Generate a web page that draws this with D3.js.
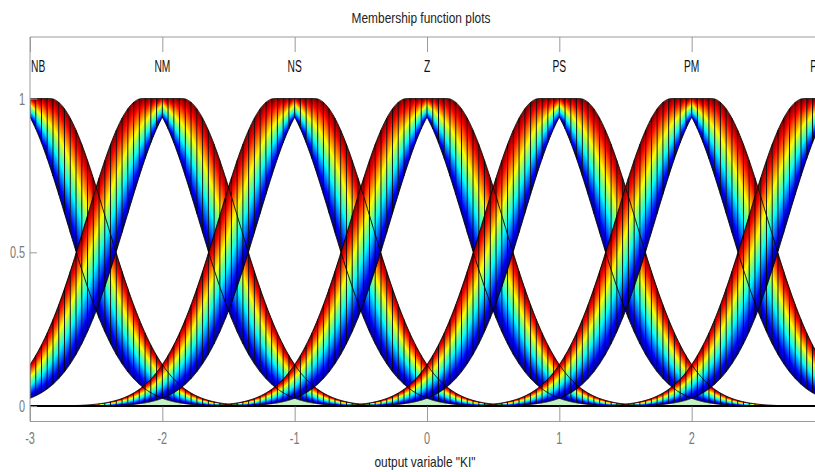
<!DOCTYPE html>
<html>
<head>
<meta charset="utf-8">
<script src="https://cdn.jsdelivr.net/npm/d3@7"></script>
<style>
  html, body { margin: 0; padding: 0; background: #fff; overflow: hidden; }
  svg { display: block; }
  text { font-family: "Liberation Sans Narrow", "Liberation Sans", Arial, sans-serif; }
</style>
</head>
<body>
<svg id="chart" width="815" height="472"></svg>
<script>
// Interval type-2 Gaussian membership functions with uncertain mean
// for the output variable "KI".
const mfNames   = ["NB", "NM", "NS", "Z", "PS", "PM", "PB"];
const mfCenters = [-3, -2, -1, 0, 1, 2, 3];
const mfSigma   = [0.4247, 0.4247, 0.4247, 0.4247, 0.4247, 0.4247, 0.4247];
const mfSpread  = [0.15, 0.15, 0.15, 0.15, 0.15, 0.15, 0.15];   // mean uncertainty ±

const xRange     = [-3, 3];
const yRange     = [-0.05, 1.2];
const xTickVals  = [-3, -2, -1, 0, 1, 2, 3];
const xTickText  = ["-3", "-2", "-1", "0", "1", "2", "3"];
const yTickVals  = [0, 0.5, 1];
const yTickText  = ["0", "0.5", "1"];
const gridCount  = 138;                 // evaluation intervals across the range

const titleText  = "Membership function plots";
const xLabelText = 'output variable "KI"';

// jet colour map, lower MF (0) -> upper MF (1)
const jetStops = [
  [0.000, "#00008f"], [0.125, "#0000ff"], [0.375, "#00ffff"],
  [0.625, "#ffff00"], [0.875, "#ff0000"], [1.000, "#800000"]
];

const W = 815;
const svg = d3.select("#chart");
const x = d3.scaleLinear().domain(xRange).range([30, 824]);
const y = d3.scaleLinear().domain(yRange).range([421.5, 37]);

const gauss = (v, m, s) => Math.exp(-((v - m) ** 2) / (2 * s * s));
function upperMF(k, v) {
  const c = mfCenters[k], d = mfSpread[k], s = mfSigma[k];
  if (v < c - d) return gauss(v, c - d, s);
  if (v > c + d) return gauss(v, c + d, s);
  return 1;
}
function lowerMF(k, v) {
  const c = mfCenters[k], d = mfSpread[k], s = mfSigma[k];
  return Math.min(gauss(v, c - d, s), gauss(v, c + d, s));
}

const grid = d3.range(gridCount + 1).map(i => xRange[0] + (xRange[1] - xRange[0]) * i / gridCount);

svg.append("clipPath").attr("id", "plotClip")
  .append("rect").attr("x", 30).attr("y", 37).attr("width", 800).attr("height", 384.5);

const defs = svg.append("defs");
const plot = svg.append("g").attr("clip-path", "url(#plotClip)");
const bandLayer = plot.append("g");

// Footprint of uncertainty: one shaded quad per grid interval
mfNames.forEach((name, k) => {
  const g = bandLayer.append("g").attr("class", "mf-" + name);
  for (let i = 0; i < gridCount; i++) {
    const a = grid[i], b = grid[i + 1];
    const x0 = x(a), x1 = x(b);
    const U0 = y(upperMF(k, a)), U1 = y(upperMF(k, b));
    const L0 = y(lowerMF(k, a)), L1 = y(lowerMF(k, b));
    const H = ((L0 - U0) + (L1 - U1)) / 2;
    if (H < 0.25) continue;
    const xm = (x0 + x1) / 2, Mm = (L0 + L1 + U0 + U1) / 4;
    const s = ((L1 - L0) + (U1 - U0)) / 2 / (x1 - x0);
    const k2 = H / (s * s + 1);
    const gid = `fou-${k}-${i}`;
    const lg = defs.append("linearGradient").attr("id", gid)
      .attr("gradientUnits", "userSpaceOnUse")
      .attr("x1", xm).attr("y1", Mm + H / 2)
      .attr("x2", xm + s * k2).attr("y2", Mm + H / 2 - k2);
    jetStops.forEach(([o, c]) => lg.append("stop").attr("offset", o).attr("stop-color", c));
    g.append("path")
      .attr("d", `M${x0},${U0}L${x1},${U1}L${x1},${L1}L${x0},${L0}Z`)
      .attr("fill", `url(#${gid})`);
    g.append("line")
      .attr("x1", x0).attr("x2", x0).attr("y1", U0).attr("y2", L0)
      .attr("stroke", "#000").attr("stroke-width", 0.9);
  }
});

// Region beneath the lower MFs of the two neighbours at each inner centre
const under = plot.append("g");
mfCenters.forEach((c, k) => {
  if (k === 0 || k === mfCenters.length - 1) return;
  const d = mfSpread[k];
  const pts = d3.range(0, 21).map(j => c - d + 2 * d * j / 20);
  const area = d3.area()
    .x(v => x(v))
    .y0(y(0))
    .y1(v => y(Math.min(lowerMF(k - 1, v), lowerMF(k + 1, v))));
  under.append("path").attr("d", area(pts)).attr("fill", "#c4f0c6");
});

// Upper and lower MF outlines
const fine = d3.range(0, 1201).map(i => xRange[0] + (xRange[1] - xRange[0]) * i / 1200);
const outlines = plot.append("g").attr("fill", "none").attr("stroke", "#000").attr("stroke-width", 0.9);
mfNames.forEach((name, k) => {
  outlines.append("path").attr("d", d3.line().x(v => x(v)).y(v => y(upperMF(k, v)))(fine));
  outlines.append("path").attr("d", d3.line().x(v => x(v)).y(v => y(lowerMF(k, v)))(fine));
});

// Zero line
plot.append("line")
  .attr("x1", x(xRange[0])).attr("x2", x(xRange[1]))
  .attr("y1", y(0)).attr("y2", y(0))
  .attr("stroke", "#000").attr("stroke-width", 2);

// Axes frame and ticks
const axisColor = "#9a9a9a";
const frame = svg.append("g").attr("stroke", axisColor).attr("stroke-width", 1).attr("fill", "none");
frame.append("path").attr("d", `M${x(xRange[1])},${y(yRange[1])}H${x(xRange[0])}V${y(yRange[0])}H${x(xRange[1])}`);

const xTop = d3.axisTop(x).tickValues(xTickVals).tickSize(-15);
const xBottom = d3.axisBottom(x).tickValues(xTickVals).tickSize(-15);
const yLeft = d3.axisLeft(y).tickValues(yTickVals).tickSize(-7);

function styleAxis(g) {
  g.select(".domain").remove();
  g.selectAll(".tick line").attr("stroke", axisColor);
  g.selectAll(".tick text").remove();
}
svg.append("g").attr("transform", `translate(0,${y(yRange[1])})`).call(xTop).call(styleAxis);
svg.append("g").attr("transform", `translate(0,${y(yRange[0])})`).call(xBottom).call(styleAxis);
svg.append("g").attr("transform", `translate(${x(xRange[0])},0)`).call(yLeft).call(styleAxis);

// Condensed text helper
function label(txt, px, py, anchor, size, color, sx) {
  svg.append("text")
    .attr("transform", `translate(${px},${py}) scale(${sx},1)`)
    .attr("text-anchor", anchor)
    .attr("font-size", size)
    .attr("fill", color)
    .text(txt);
}

// Tick labels (those whose centre falls past the window edge stay off-canvas)
xTickVals.forEach((v, i) => {
  if (x(v) + 4 > W) return;
  label(xTickText[i], x(v), 444, "middle", 16, "#7a7a7a", 0.68);
});
yTickVals.forEach((v, i) => label(yTickText[i], 25, y(v) + 6, "end", 16, "#7a7a7a", 0.68));

mfNames.forEach((n, k) => {
  const anchor = k === 0 ? "start" : (k === mfNames.length - 1 ? "end" : "middle");
  const px = k === 0 ? x(mfCenters[k]) + 1 : x(mfCenters[k]);
  label(n, px, 72, anchor, 16, "#111", 0.64);
});

label(titleText, 421, 23, "middle", 14, "#222", 0.85);
label(xLabelText, 425, 467, "middle", 14, "#222", 0.85);
</script>
</body>
</html>
